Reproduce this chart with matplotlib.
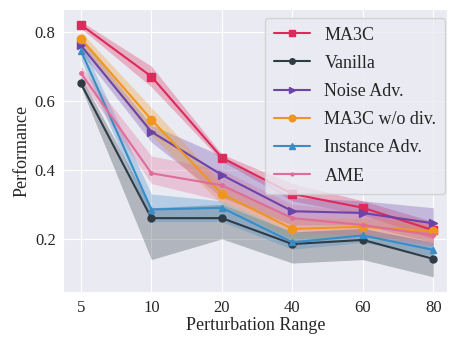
import numpy as np
import matplotlib
matplotlib.use("Agg")
import matplotlib.pyplot as plt
import seaborn as sns

# =========================
# 数据
# =========================
ranges = ["5", "10", "20", "40", "60", "80"]

ma3c = [0.82, 0.67, 0.435, 0.33, 0.29, 0.225]
ma3c_lo = [0.81, 0.64, 0.425, 0.31, 0.27, 0.20]
ma3c_hi = [0.83, 0.70, 0.445, 0.36, 0.31, 0.25]

vanilla = [0.65, 0.26, 0.26, 0.185, 0.197, 0.142]
vanilla_lo = [0.64, 0.14, 0.20, 0.13, 0.14, 0.09]
vanilla_hi = [0.67, 0.29, 0.30, 0.22, 0.23, 0.19]

noise = [0.76, 0.51, 0.385, 0.28, 0.275, 0.245]
noise_lo = [0.74, 0.48, 0.32, 0.24, 0.24, 0.19]
noise_hi = [0.78, 0.53, 0.44, 0.32, 0.31, 0.29]

wodiv = [0.78, 0.545, 0.33, 0.229, 0.235, 0.222]
wodiv_lo = [0.76, 0.50, 0.30, 0.20, 0.21, 0.19]
wodiv_hi = [0.80, 0.58, 0.36, 0.26, 0.26, 0.25]

inst = [0.745, 0.285, 0.29, 0.19, 0.21, 0.168]
inst_lo = [0.72, 0.25, 0.25, 0.17, 0.19, 0.15]
inst_hi = [0.77, 0.33, 0.31, 0.22, 0.23, 0.19]

ame = [0.68, 0.39, 0.355, 0.26, 0.24, 0.21]
ame_lo = [0.66, 0.36, 0.31, 0.22, 0.21, 0.18]
ame_hi = [0.70, 0.44, 0.40, 0.30, 0.28, 0.25]

series = [
    ("MA3C", ma3c, ma3c_lo, ma3c_hi, "#dc2a5a", "s", 6),
    ("Vanilla", vanilla, vanilla_lo, vanilla_hi, "#2f3b45", "o", 5),
    ("Noise Adv.", noise, noise_lo, noise_hi, "#6b44a8", ">", 6),
    ("MA3C w/o div.", wodiv, wodiv_lo, wodiv_hi, "#f0961e", "o", 6),
    ("Instance Adv.", inst, inst_lo, inst_hi, "#3a8cc6", "^", 5),
    ("AME", ame, ame_lo, ame_hi, "#e06c98", ".", 5),
]

# =========================
# 绘图
# =========================
sns.set_style("darkgrid", {"axes.facecolor": "#eaeaf2"})
plt.rcParams["font.family"] = ["Liberation Serif", "DejaVu Serif"]

fig, ax = plt.subplots(figsize=(4.52, 3.4), dpi=100)
x = np.arange(len(ranges))

for name, y, lo, hi, c, m, ms in series:
    ax.fill_between(x, lo, hi, color=c, alpha=0.3, linewidth=0)
    ax.plot(x, y, color=c, marker=m, markersize=ms, linewidth=1.5, label=name)

ax.set_xticks(x)
ax.set_xticklabels(ranges)
ax.set_xlim(-0.25, 5.2)
ax.set_ylim(0.045, 0.867)
ax.set_yticks([0.2, 0.4, 0.6, 0.8])
ax.set_yticklabels(["0.2", "0.4", "0.6", "0.8"])
ax.tick_params(labelsize=12, pad=2)
ax.set_xlabel("Perturbation Range", fontsize=13, labelpad=1)
ax.set_ylabel("Performance", fontsize=13, labelpad=3)

ax.legend(loc="upper right", fontsize=13, handlelength=2.0, labelspacing=0.62,
          borderpad=0.5, markerscale=0.8, framealpha=0.8,
          bbox_to_anchor=(1.018, 1.0))

plt.subplots_adjust(left=0.14, right=0.99, top=0.975, bottom=0.14)
plt.savefig("out.png", dpi=100)
plt.close()
